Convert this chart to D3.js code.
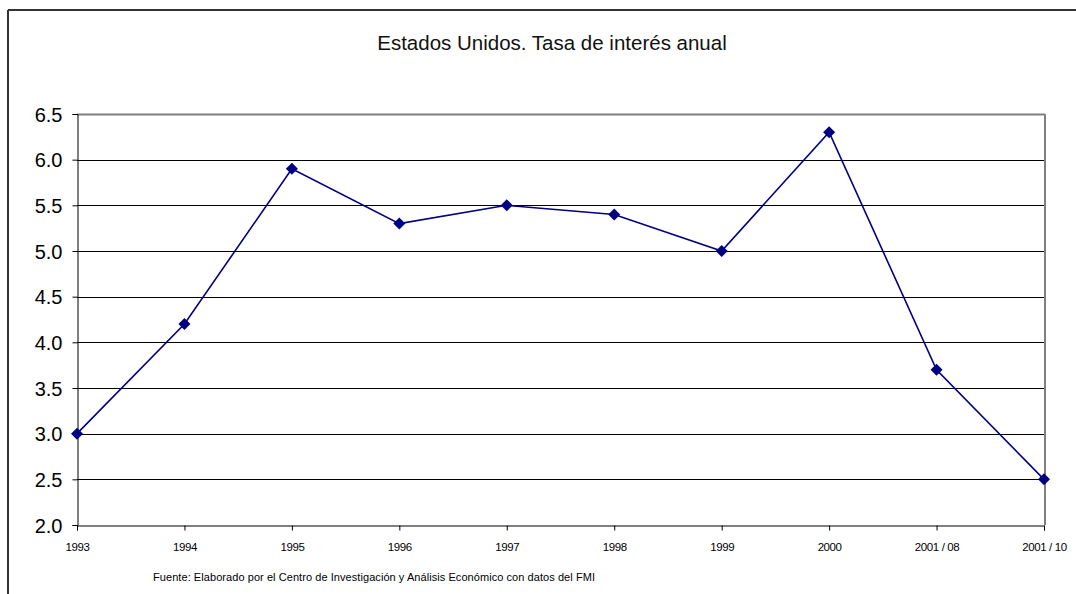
<!DOCTYPE html>
<html><head><meta charset="utf-8">
<script src="https://cdn.jsdelivr.net/npm/d3@7"></script>
<style>body{margin:0;background:#fff;}svg{display:block;font-family:"Liberation Sans",Arial,sans-serif;}</style>
</head><body>
<svg id="c" width="1076" height="594"></svg>
<script>
const categories = ["1993","1994","1995","1996","1997","1998","1999","2000","2001 / 08","2001 / 10"];
const values = [3.0, 4.2, 5.9, 5.3, 5.5, 5.4, 5.0, 6.3, 3.7, 2.5];
const yTicks = [2.0, 2.5, 3.0, 3.5, 4.0, 4.5, 5.0, 5.5, 6.0, 6.5];
const title = "Estados Unidos. Tasa de interés anual";
const source = "Fuente: Elaborado por el Centro de Investigación y Análisis Económico con datos del FMI";

const svg = d3.select("#c");
const L = 77, R = 1044, T = 114, B = 525;

// outer frame (top and left only visible)
svg.append("line").attr("x1",8).attr("x2",1076).attr("y1",10).attr("y2",10).attr("stroke","#333").attr("stroke-width",2);
svg.append("line").attr("x1",8).attr("x2",8).attr("y1",10).attr("y2",594).attr("stroke","#333").attr("stroke-width",2);

svg.append("text").attr("x",552).attr("y",50).attr("text-anchor","middle").attr("font-size",20.5).attr("fill","#111").text(title);

const x = d3.scalePoint().domain(categories).range([L, R]);
const y = d3.scaleLinear().domain([2.0, 6.5]).range([B, T]);

// gridlines
svg.append("g").selectAll("line").data(yTicks.slice(1, -1)).join("line")
  .attr("x1", L).attr("x2", R).attr("y1", d => Math.round(y(d)) + 0.5).attr("y2", d => Math.round(y(d)) + 0.5)
  .attr("stroke", "#000").attr("stroke-width", 1);

// plot area border top/right gray
svg.append("line").attr("x1",L).attr("x2",R+1).attr("y1",T+0.5).attr("y2",T+0.5).attr("stroke","#808080").attr("stroke-width",2);
svg.append("line").attr("x1",R+1).attr("x2",R+1).attr("y1",T).attr("y2",B).attr("stroke","#808080").attr("stroke-width",2);

// y axis
const yAxis = d3.axisLeft(y).tickValues(yTicks).tickFormat(d3.format(".1f")).tickSize(5).tickPadding(10);
const gy = svg.append("g").attr("transform", `translate(${L+0.5},0)`).call(yAxis);
gy.select(".domain").attr("stroke","#000");
gy.selectAll(".tick line").attr("stroke","#000");
gy.selectAll(".tick text").attr("font-size",20).attr("fill","#000").attr("font-family","'Liberation Sans',Arial,sans-serif").attr("dy","0.35em");

// x axis
const xAxis = d3.axisBottom(x).tickSize(5).tickPadding(12);
const gx = svg.append("g").attr("transform", `translate(0,${B+0.5})`).call(xAxis);
gx.select(".domain").attr("stroke","#000");
gx.selectAll(".tick line").attr("stroke","#000");
gx.selectAll(".tick text").attr("font-size",11.5).attr("fill","#000").attr("font-family","'Liberation Sans',Arial,sans-serif").attr("letter-spacing","-0.4");

// line
svg.append("path").datum(values)
  .attr("d", d3.line().x((d,i) => x(categories[i])).y(d => y(d)))
  .attr("fill","none").attr("stroke","#000080").attr("stroke-width",1.6);

// markers
svg.append("g").selectAll("path").data(values).join("path")
  .attr("transform", (d,i) => `translate(${x(categories[i])},${y(d)})`)
  .attr("d", "M0,-6L6,0L0,6L-6,0Z")
  .attr("fill","#000080");

svg.append("text").attr("x",153).attr("y",581).attr("font-size",11).attr("textLength",442).attr("lengthAdjust","spacing").attr("fill","#000").text(source);
</script>
</body></html>
